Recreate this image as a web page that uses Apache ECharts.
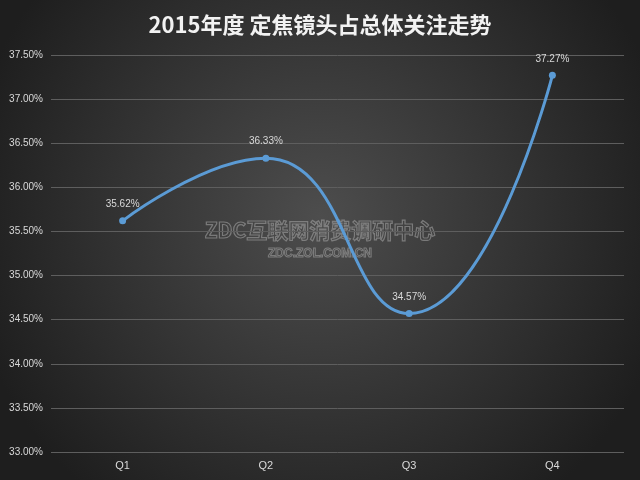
<!DOCTYPE html>
<html><head><meta charset="utf-8">
<script src="https://cdn.jsdelivr.net/npm/echarts@6/dist/echarts.min.js"></script>
<style>html,body{margin:0;padding:0;}#c{width:640px;height:480px;}</style>
</head><body><div id="c"></div>
<script>
const categories = ['Q1', 'Q2', 'Q3', 'Q4'];
const values = [35.62, 36.33, 34.57, 37.27];
const titleText = '2015年度 定焦镜头占总体关注走势';
const watermark1 = 'ZDC互联网消费调研中心';
const watermark2 = 'ZDC.ZOL.COM.CN';

const chart = echarts.init(document.getElementById('c'));
chart.setOption({
  animation: false,
  backgroundColor: {
    type: 'radial', x: 0.5, y: 0.45, r: 0.75,
    colorStops: [{offset: 0, color: '#4d4d4d'}, {offset: 1, color: '#1e1e1e'}]
  },
  title: {
    text: titleText, left: 'center', top: 9,
    textStyle: {color: '#f2f2f2', fontSize: 22, fontWeight: 'bold', fontFamily: 'Noto Sans CJK SC'}
  },
  grid: {left: 51, right: 16, top: 55, bottom: 28},
  xAxis: {
    type: 'category', data: categories, boundaryGap: true,
    axisLine: {show: false}, axisTick: {show: false},
    axisLabel: {color: '#d9d9d9', fontSize: 11, margin: 8, fontFamily: 'Liberation Sans'}
  },
  yAxis: {
    type: 'value', min: 33, max: 37.5, interval: 0.5,
    axisLine: {show: false}, axisTick: {show: false},
    splitLine: {lineStyle: {color: '#5e5e5e', width: 1}},
    axisLabel: {color: '#d9d9d9', fontSize: 10, margin: 8, fontFamily: 'Liberation Sans',
      formatter: v => v.toFixed(2) + '%'}
  },
  graphic: [
    {type: 'text', left: 'center', top: 219, silent: true,
      style: {text: watermark1, fill: 'rgba(0,0,0,0)', stroke: 'rgba(170,170,170,0.55)', lineWidth: 1.2,
        fontSize: 21, fontWeight: 'bold', fontFamily: 'Noto Sans CJK SC'}},
    {type: 'text', left: 'center', top: 247, silent: true,
      style: {text: watermark2, fill: 'rgba(0,0,0,0)', stroke: 'rgba(170,170,170,0.55)', lineWidth: 1,
        fontSize: 12, fontWeight: 'bold', fontFamily: 'Liberation Sans'}}
  ],
  series: [{
    type: 'line', data: values, smooth: 0.5,
    symbol: 'circle', symbolSize: 7,
    lineStyle: {color: '#5b9bd5', width: 3},
    itemStyle: {color: '#5b9bd5'},
    label: {show: true, position: 'top', distance: 8, color: '#d9d9d9', fontSize: 10,
      fontFamily: 'Liberation Sans', formatter: p => p.value.toFixed(2) + '%'}
  }]
});
</script></body></html>
